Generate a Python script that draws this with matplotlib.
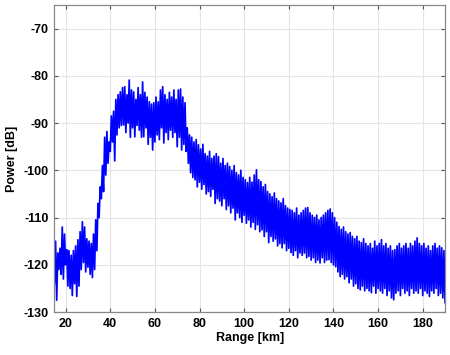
import numpy as np
import matplotlib
matplotlib.use('Agg')
import matplotlib.pyplot as plt
from matplotlib import rcParams
rcParams['font.family'] = 'sans-serif'
rcParams['font.sans-serif'] = ['Liberation Sans', 'DejaVu Sans']
rcParams['axes.unicode_minus'] = False

# troughs of the trace, read at every whole km (15..190)
power_lo = [
    -124, -127.5, -121, -122, -123, -120, -124.5, -125, -126.5, -124,
    -126.7, -124.5, -121, -119.5, -121.5, -120.5, -122, -122.7, -121, -117,
    -110, -106, -104.5, -101, -98.5, -96, -94, -98, -92.5, -91,
    -90.5, -90.4, -92, -90, -93, -91, -92.9, -90.5, -91.5, -93,
    -92.9, -91, -94.5, -93, -95.7, -94, -92.5, -93.5, -91, -94.2,
    -92, -93.5, -91.5, -93, -92, -95, -93, -95.7, -94.5, -96,
    -98.5, -100.5, -101.5, -102, -103.5, -102.5, -104, -103, -105, -104.5,
    -105.5, -104, -107, -106, -106.5, -107.5, -106, -108.3, -107.5, -109,
    -108, -110.5, -109, -110, -111, -109.5, -111.2, -110.5, -112, -111,
    -112.5, -111.5, -113, -112.6, -114, -113, -115.3, -114, -115, -114.5,
    -116, -115.5, -116.4, -115.5, -117, -116.5, -117.4, -118, -117, -118.5,
    -117.5, -118, -117.5, -118.5, -118.2, -119, -118.5, -119.5, -119, -119.6,
    -118.5, -119.5, -119, -118.9, -119.5, -120, -120.4, -121.5, -122.5, -122,
    -123, -122.5, -123.8, -123, -124.5, -124, -125, -125.3, -124.5, -125.5,
    -125, -125.5, -125.9, -124.5, -126, -125, -125.5, -126, -125, -126.5,
    -125.5, -127, -127.4, -126, -125.5, -126.5, -125, -126, -125.5, -126.5,
    -125, -126, -125.5, -126, -125, -126.5, -125.5, -126, -126.7, -125.5,
    -126, -125, -126.5, -126, -127, -128]
# peaks of the trace, read at every half km (15.5..189.5)
power_hi = [
    -115, -117.5, -116.5, -112, -113.5, -116.8, -117, -118, -117, -116,
    -114.7, -113, -110.9, -112, -114.5, -115, -115.5, -113.5, -110.5, -107,
    -103.5, -99, -93, -91.8, -94, -88.5, -87.5, -85, -84, -83.4,
    -82.5, -82.3, -84, -80.9, -83, -83.4, -85, -82.5, -84, -81.3,
    -83.5, -84.5, -85.5, -86, -85.7, -84.5, -85.5, -83, -82.3, -84,
    -85, -83.5, -84.5, -83, -85, -83, -82.8, -84.5, -85.7, -91,
    -92.5, -93, -94, -93.5, -94.6, -95.5, -94.5, -96.5, -97, -96,
    -97.5, -97, -96.5, -97.1, -98.5, -97.5, -99, -98.5, -99.2, -100,
    -99, -100.5, -101, -100, -101.5, -102, -102.6, -101.5, -102.5, -101,
    -99.9, -102, -102.4, -103.5, -103, -104.5, -105, -105.6, -104.8, -106,
    -106.5, -106.9, -106, -107.5, -108, -108.3, -108.5, -109, -108, -109.5,
    -109, -108.5, -108, -107.9, -109, -109.5, -110, -109.5, -110.5, -110,
    -109.5, -109, -108.5, -108.2, -109, -110, -111, -111.9, -112.5, -112,
    -113, -113.5, -113.2, -114, -114.5, -114, -115, -115.3, -114.5, -115.5,
    -116, -115.5, -116.5, -115, -116, -115.5, -114.7, -116, -115.5, -116.5,
    -116, -117, -116.8, -116, -115.5, -116.5, -116, -115.5, -116.5, -115.5,
    -116, -115, -114.3, -115.5, -116, -115.5, -116.5, -116, -117, -116,
    -115.5, -116.5, -116, -116.4, -117]
range_lo = np.arange(15, 191)
range_hi = np.arange(15.5, 190)

# interleave troughs and peaks into one trace
rng_km = np.empty(len(range_lo) + len(range_hi))
pw = np.empty_like(rng_km)
rng_km[0::2] = range_lo
rng_km[1::2] = range_hi
pw[0::2] = power_lo
pw[1::2] = power_hi

fig = plt.figure(figsize=(4.5, 3.55), dpi=100)
ax = fig.add_axes([0.121, 0.121, 0.868, 0.865])
ax.plot(rng_km, pw, color='#0000ff', linewidth=1.25)

ax.set(xlim=[15, 190], ylim=[-130, -65])
ax.set_xticks(np.arange(20, 181, 20))
ax.set_yticks(np.arange(-130, -69, 10))
ax.grid(True, color='#e4e4e4', linewidth=0.8)
ax.set_axisbelow(True)
ax.tick_params(direction='in', top=True, right=True, length=3, width=0.8,
               color='#555555', labelsize=9, pad=4)
for lbl in ax.get_xticklabels() + ax.get_yticklabels():
    lbl.set_fontweight('bold')
for sp in ax.spines.values():
    sp.set_color('#888888')
    sp.set_linewidth(0.9)
ax.set_xlabel('Range [km]', fontsize=9, fontweight='bold', labelpad=2)
ax.set_ylabel('Power [dB]', fontsize=9, fontweight='bold', labelpad=4)

plt.savefig('out.png', dpi=100)
